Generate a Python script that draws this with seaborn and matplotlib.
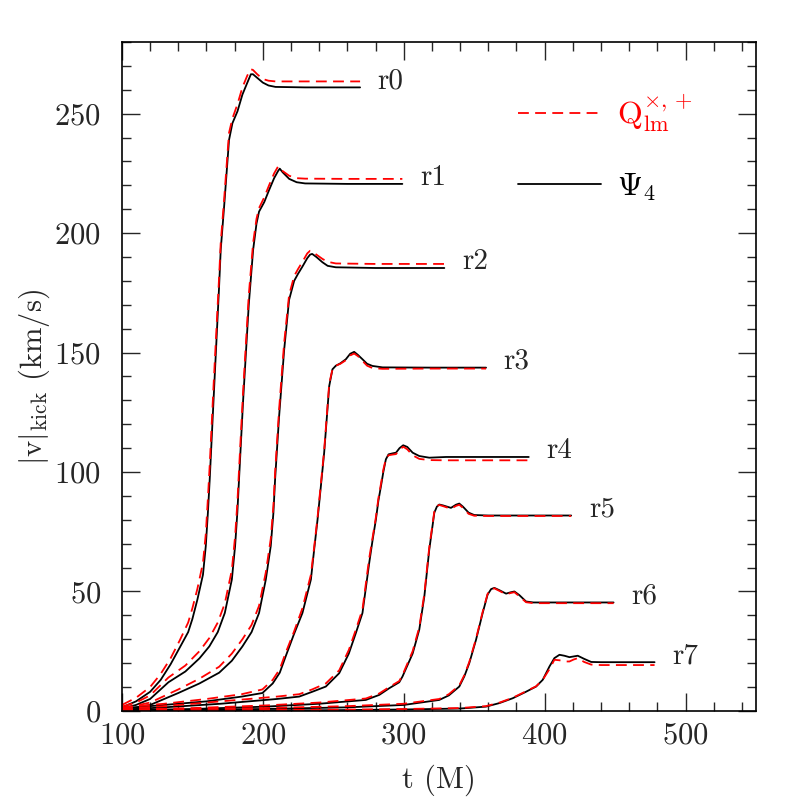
import numpy as np
import pandas as pd
import matplotlib
matplotlib.use('Agg')
import matplotlib.pyplot as plt
from matplotlib.lines import Line2D
from matplotlib.ticker import MultipleLocator
import seaborn as sns

# Kick velocity |v|_kick (km/s) vs time t (M), for extraction radii r0..r7.
# psi = from Psi_4 (black solid), q = from Q^{x,+}_lm (red dashed)
t_r0 = [100, 110, 120, 127.5, 134.5, 141, 147, 150, 153.5, 157.5, 159.5, 161, 162.3, 165, 168.9, 170.1,
        172.5, 176, 178.4, 182, 185.5, 189, 191.5, 193, 196, 200, 204, 209, 230, 269]
psi_r0 = [1.5, 4, 8, 13, 19.5, 26.5, 33, 38.5, 46.5, 57, 69, 83, 97, 130, 177, 193,
          211, 239, 246, 251, 258, 263, 266.5, 266.5, 265, 263, 261.8, 261.2, 261, 261]
q_r0 = [2.5, 5.5, 10, 15.5, 22, 29.5, 37, 43, 51, 62, 74, 89, 103, 136, 181, 196,
        214, 242, 248, 254, 261, 266, 268.6, 268.3, 266.5, 264.5, 263.8, 263.5, 263.5, 263.5]

t_r1 = [100, 110, 120, 133, 145, 155, 162, 168, 173, 178, 180.3, 181.9, 183.1, 186, 190,
        193.1, 195.5, 197.3, 201, 204.4, 208, 210.8, 212, 214, 218.7, 224, 230, 260, 299]
psi_r1 = [1, 2.5, 5, 12, 16.5, 22, 27, 33, 41, 55, 69, 83, 97, 130, 170,
          193, 204, 209, 213, 218, 223, 226, 227, 225.5, 222.7, 221.3, 220.8, 220.6, 220.6]
q_r1 = [1.8, 3.5, 6.5, 14, 19, 25, 30.5, 37, 45, 59, 73, 87, 101, 134, 174,
        196, 206, 210.5, 215, 220, 225, 227.9, 227.5, 226, 224, 223, 222.8, 222.7, 222.7]

t_r2 = [100, 120, 140, 155, 169, 178, 185.5, 192, 197.3, 202.1, 205.6, 207.5, 208.7, 211.5,
        215.1, 218.6, 222.2, 225, 228.1, 231.5, 233.5, 235, 238, 242.3, 246, 251.8, 280, 328.8]
psi_r2 = [0.5, 2.5, 7.5, 11.5, 16, 21, 27, 33, 41, 55, 69, 83, 97, 123,
          151, 172, 180, 183, 186, 189.5, 191, 191.3, 190, 187.8, 186.3, 185.7, 185.4, 185.4]
q_r2 = [1, 3.5, 9, 13.5, 18.5, 24, 30, 36, 44, 58, 72, 86, 100, 126,
        154, 174, 182, 185, 188, 191.5, 192.6, 192.3, 191, 189.2, 188, 187.3, 187.1, 187.1]

t_r3 = [100, 130, 160, 185, 199.7, 207, 212, 216.3, 222, 228.1, 234.1, 236.5, 238.8, 241, 243.5,
        247.1, 249.4, 251.8, 255, 258.9, 262, 264.8, 267.5, 270.7, 274, 277.8, 285, 320, 358.4]
psi_r3 = [1, 2.5, 4, 6, 7.5, 11.5, 16, 23, 32, 41, 55, 68, 80, 93, 108,
          136, 143, 144.5, 145.5, 147.2, 149.5, 150.3, 149, 147.2, 145.3, 144.4, 143.8, 143.7, 143.7]
q_r3 = [1.5, 3, 5, 7, 9, 13, 17.5, 24.5, 33, 43, 57, 69, 81, 94, 109,
        137, 143, 144.5, 145.3, 146.8, 148.8, 149.6, 148.5, 146.5, 144.5, 143.5, 143.2, 143.3, 143.3]

t_r4 = [100, 130, 170, 210, 225.8, 235, 244.7, 254.2, 261, 266, 270.7, 275.5, 278, 280.2, 282,
        283.8, 285.5, 287.3, 289.2, 292, 294.5, 297, 299.6, 302.5, 306.3, 311, 318.1, 330, 388.7]
psi_r4 = [0.5, 1.5, 3, 5, 6, 8, 10.2, 15.8, 24, 32.6, 41, 62, 72, 80, 88,
          94, 100, 105.3, 107.4, 107.8, 108.1, 110, 111.2, 110.5, 108.1, 106.7, 106, 106.3, 106.3]
q_r4 = [1, 2, 4, 6, 7, 9, 11.5, 17, 25.5, 34, 42.5, 64, 73, 81, 89,
        95, 101, 105.5, 107, 107.3, 107.5, 109.3, 110.6, 109.5, 107, 105.5, 105, 104.9, 104.9]

t_r5 = [100, 150, 202, 240, 273.1, 282.6, 289.7, 296.8, 299.1, 306.3, 311, 314.6, 318.1, 321.7,
        323.5, 325.2, 328, 333.5, 337, 339.4, 342, 346, 350, 360, 418.8]
psi_r5 = [0.3, 0.8, 1.8, 3, 4.6, 6.7, 9.5, 12, 14.4, 24, 34, 47.9, 67.5, 83,
          85.5, 86.4, 86, 85, 86.3, 86.8, 85.5, 83, 82, 81.8, 81.8]
q_r5 = [0.6, 1.2, 2.3, 3.5, 5.2, 7.3, 10, 12.5, 15, 25, 35, 49, 68.5, 83.5,
        85.8, 86.2, 85.7, 84.6, 85.8, 86.3, 85, 82.5, 81.7, 81.6, 81.6]

t_r6 = [100, 200, 260, 300, 325.2, 332, 339.4, 343, 346.5, 351.3, 356, 359.5, 362, 364.3,
        368, 372.6, 375.5, 378.5, 382, 386.8, 392, 448.9]
psi_r6 = [0.2, 0.8, 1.5, 2.5, 4.6, 6.5, 10.2, 14.5, 20, 29.8, 41, 48.7, 51, 51.5,
          50.5, 49.1, 49.6, 50, 48.5, 45.8, 45.4, 45.4]
q_r6 = [0.5, 1.2, 2, 3, 5, 7, 10.7, 15, 20.5, 30.3, 41.5, 49, 51, 51.3,
        50.2, 48.8, 49.3, 49.7, 48, 45.5, 45.1, 45.1]

t_r7 = [100, 250, 300, 340, 358.4, 368, 377.3, 386, 393.9, 398.6, 403.4, 406.9, 410.5, 414,
        417.6, 420.5, 423.5, 428, 433, 440, 478]
psi_r7 = [0.1, 0.3, 0.6, 1, 1.8, 3.3, 5.3, 7.8, 10.2, 13, 18.6, 22.1, 23.5, 23.1,
          22.5, 22.8, 23.1, 21.8, 20.5, 20.4, 20.4]
q_r7 = [0.2, 0.5, 0.8, 1.2, 2, 3.5, 5.5, 8, 10.3, 13, 17.5, 21.4, 21.2, 20.7,
        20.7, 21.5, 22.1, 20.5, 19.4, 19.2, 19.2]

labels = ['r0', 'r1', 'r2', 'r3', 'r4', 'r5', 'r6', 'r7']
times = [t_r0, t_r1, t_r2, t_r3, t_r4, t_r5, t_r6, t_r7]
psi = [psi_r0, psi_r1, psi_r2, psi_r3, psi_r4, psi_r5, psi_r6, psi_r7]
qlm = [q_r0, q_r1, q_r2, q_r3, q_r4, q_r5, q_r6, q_r7]

frames = []
for lab, t, p, q in zip(labels, times, psi, qlm):
    frames.append(pd.DataFrame({'t': t, 'v': p, 'curve': lab, 'kind': 'psi'}))
    frames.append(pd.DataFrame({'t': t, 'v': q, 'curve': lab, 'kind': 'q'}))
df = pd.concat(frames, ignore_index=True)

sns.set_style("ticks")
plt.rcParams['font.family'] = ['cmr10', 'DejaVu Serif']
plt.rcParams['mathtext.fontset'] = 'cm'
plt.rcParams['axes.formatter.use_mathtext'] = True

fig = plt.figure(figsize=(7.97, 7.97), dpi=100)
ax = fig.add_axes([0.153, 0.108, 0.7956, 0.8393])

sns.lineplot(data=df, x='t', y='v', hue='kind', style='kind', units='curve', estimator=None,
             sort=False, hue_order=['psi', 'q'], style_order=['psi', 'q'],
             palette={'psi': 'black', 'q': 'red'}, dashes={'psi': '', 'q': (6, 3.5)},
             linewidth=1.3, legend=False, ax=ax)

for lab, t, p in zip(labels, times, psi):
    ax.text(t[-1] + 12.5, p[-1] + 2.5, lab, fontsize=21, ha='left', va='center')

ax.set_xlim(100, 550)
ax.set_ylim(0, 280)
ax.xaxis.set_major_locator(MultipleLocator(100))
ax.xaxis.set_minor_locator(MultipleLocator(20))
ax.yaxis.set_major_locator(MultipleLocator(50))
ax.yaxis.set_minor_locator(MultipleLocator(10))
ax.tick_params(which='both', direction='in', top=True, right=True, labelsize=22)
ax.tick_params(axis='x', pad=8)
ax.tick_params(axis='y', pad=15)
ax.tick_params(which='major', length=13, width=1)
ax.tick_params(which='minor', length=6.5, width=1)
for s in ax.spines.values():
    s.set_linewidth(1.2)
    s.set_color('black')

ax.set_xlabel('t (M)', fontsize=22, labelpad=11)
ax.set_ylabel(r'$\mathrm{|v|_{kick}}$ (km/s)', fontsize=22, labelpad=2)

handles = [Line2D([], [], color='red', lw=1.3, dashes=(6, 3.5)),
           Line2D([], [], color='black', lw=1.3)]
ax.legend(handles, [r'$\mathrm{Q}^{\times,+}_{\mathrm{lm}}$', r'$\Psi_4$'],
          loc='upper left', bbox_to_anchor=(0.60, 0.948), frameon=False, fontsize=23,
          handlelength=2.6, handletextpad=0.5, labelspacing=1.16, borderpad=0,
          labelcolor='linecolor')

fig.savefig('out.png', dpi=100)
